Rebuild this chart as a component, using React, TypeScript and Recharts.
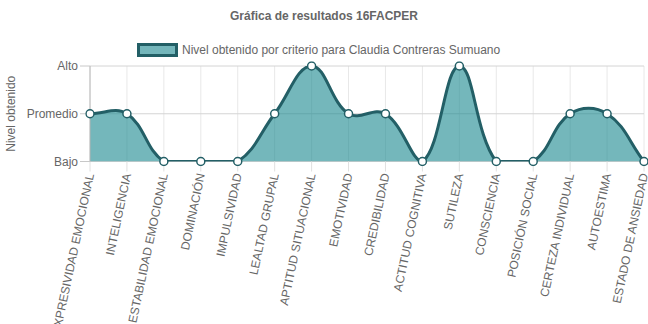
import { Area, AreaChart, CartesianGrid, XAxis, YAxis } from "recharts";

const criterios = [
  "EXPRESIVIDAD EMOCIONAL",
  "INTELIGENCIA",
  "ESTABILIDAD EMOCIONAL",
  "DOMINACIÓN",
  "IMPULSIVIDAD",
  "LEALTAD GRUPAL",
  "APTITUD SITUACIONAL",
  "EMOTIVIDAD",
  "CREDIBILIDAD",
  "ACTITUD COGNITIVA",
  "SUTILEZA",
  "CONSCIENCIA",
  "POSICIÓN SOCIAL",
  "CERTEZA INDIVIDUAL",
  "AUTOESTIMA",
  "ESTADO DE ANSIEDAD",
];

// 1 = Bajo, 2 = Promedio, 3 = Alto
const niveles = [2, 2, 1, 1, 1, 2, 3, 2, 2, 1, 3, 1, 1, 2, 2, 1];

const nivelTicks = [1, 2, 3];
const nivelNombres: Record<number, string> = { 1: "Bajo", 2: "Promedio", 3: "Alto" };

const data = criterios.map((criterio, i) => ({ criterio, nivel: niveles[i] }));

const FONT = '"Liberation Sans", Arial, Helvetica, sans-serif';
const TEXT = "#666";
const LINE = "#235f66";
const FILL = "#1f8a91";

// spline with tension 0.4 and control points kept inside the data's y range
const splineCurve = (context: any) => {
  let pts: number[][] = [];
  let line = NaN;
  const tension = 0.4;
  return {
    areaStart() { line = 0; },
    areaEnd() { line = NaN; },
    lineStart() { pts = []; },
    point(x: number, y: number) { pts.push([+x, +y]); },
    lineEnd() {
      if (pts.length) {
        const ys = pts.map((p) => p[1]);
        const top = Math.min(...ys);
        const bottom = Math.max(...ys);
        const cap = (v: number) => Math.max(top, Math.min(bottom, v));
        const ctrl = pts.map((cur, i) => {
          const prev = pts[i - 1] || cur;
          const next = pts[i + 1] || cur;
          const d01 = Math.hypot(cur[0] - prev[0], cur[1] - prev[1]);
          const d12 = Math.hypot(next[0] - cur[0], next[1] - cur[1]);
          let s01 = d01 / (d01 + d12);
          let s12 = d12 / (d01 + d12);
          if (isNaN(s01)) s01 = 0;
          if (isNaN(s12)) s12 = 0;
          const fa = tension * s01;
          const fb = tension * s12;
          return {
            px: cur[0] - fa * (next[0] - prev[0]),
            py: cap(cur[1] - fa * (next[1] - prev[1])),
            nx: cur[0] + fb * (next[0] - prev[0]),
            ny: cap(cur[1] + fb * (next[1] - prev[1])),
          };
        });
        const [x0, y0] = pts[0];
        if (line) context.lineTo(x0, y0);
        else context.moveTo(x0, y0);
        for (let i = 1; i < pts.length; i++) {
          context.bezierCurveTo(ctrl[i - 1].nx, ctrl[i - 1].ny, ctrl[i].px, ctrl[i].py, pts[i][0], pts[i][1]);
        }
      }
      if (line || (line !== 0 && pts.length === 1)) context.closePath();
      line = 1 - line;
    },
  };
};

const CriterioTick = ({ x, y, payload }: any) => (
  <g transform={`translate(${x},${y})`}>
    <text
      transform="rotate(-78)"
      textAnchor="end"
      dy="0.35em"
      fontSize={12}
      fontFamily={FONT}
      fill={TEXT}
    >
      {payload.value}
    </text>
  </g>
);

export default function App() {
  return (
    <div
      style={{
        position: "absolute",
        left: 0,
        top: 0,
        width: 648,
        height: 324,
        background: "#fff",
        fontFamily: FONT,
      }}
    >
      <div
        style={{
          position: "absolute",
          top: 8,
          left: 0,
          width: 648,
          textAlign: "center",
          fontSize: 12,
          lineHeight: "16px",
          fontWeight: "bold",
          color: TEXT,
        }}
      >
        Gráfica de resultados 16FACPER
      </div>
      <div
        style={{
          position: "absolute",
          top: 43,
          left: 137,
          display: "flex",
          alignItems: "center",
          fontSize: 12,
          color: TEXT,
        }}
      >
        <span
          style={{
            display: "inline-block",
            width: 41,
            height: 14,
            boxSizing: "border-box",
            border: `3px solid ${LINE}`,
            background: "#74b6bb",
            marginRight: 4,
          }}
        />
        <span>Nivel obtenido por criterio para Claudia Contreras Sumuano</span>
      </div>
      <AreaChart
        width={648}
        height={324}
        data={data}
        margin={{ top: 66, right: 4, left: 0, bottom: 0 }}
        style={{ position: "absolute", left: 0, top: 0 }}
      >
        <CartesianGrid horizontal={false} stroke="#e8e8e8" />
        <CartesianGrid vertical={false} stroke="#d4d4d4" />
        <XAxis
          dataKey="criterio"
          interval={0}
          height={162.5}
          tickSize={10}
          tickMargin={2}
          axisLine={false}
          tickLine={{ stroke: "#e0e0e0" }}
          tick={<CriterioTick />}
        />
        <YAxis
          type="number"
          domain={[1, 3]}
          allowDataOverflow
          ticks={nivelTicks}
          width={90}
          tickSize={10}
          tickMargin={2}
          axisLine={{ stroke: "#b8b8b8" }}
          tickLine={{ stroke: "#c8c8c8" }}
          tick={{ fill: TEXT, fontSize: 12, fontFamily: FONT }}
          tickFormatter={(v: number) => nivelNombres[v]}
          label={(props: any) => {
            const vb = props.viewBox || { x: 0, y: 66, height: 95.5 };
            const cy = vb.y + vb.height / 2;
            return (
              <text
                x={12}
                y={cy}
                transform={`rotate(-90, 12, ${cy})`}
                textAnchor="middle"
                dominantBaseline="middle"
                fontSize={12}
                fontFamily={FONT}
                fill={TEXT}
              >
                Nivel obtenido
              </text>
            );
          }}
        />
        <Area
          type={splineCurve as any}
          dataKey="nivel"
          baseValue={1}
          stroke={LINE}
          strokeWidth={3}
          fill={FILL}
          fillOpacity={0.62}
          dot={{ r: 4, fill: "#fff", stroke: LINE, strokeWidth: 1.5, fillOpacity: 1, clipDot: false }}
          activeDot={false}
          isAnimationActive={false}
        />
      </AreaChart>
    </div>
  );
}
